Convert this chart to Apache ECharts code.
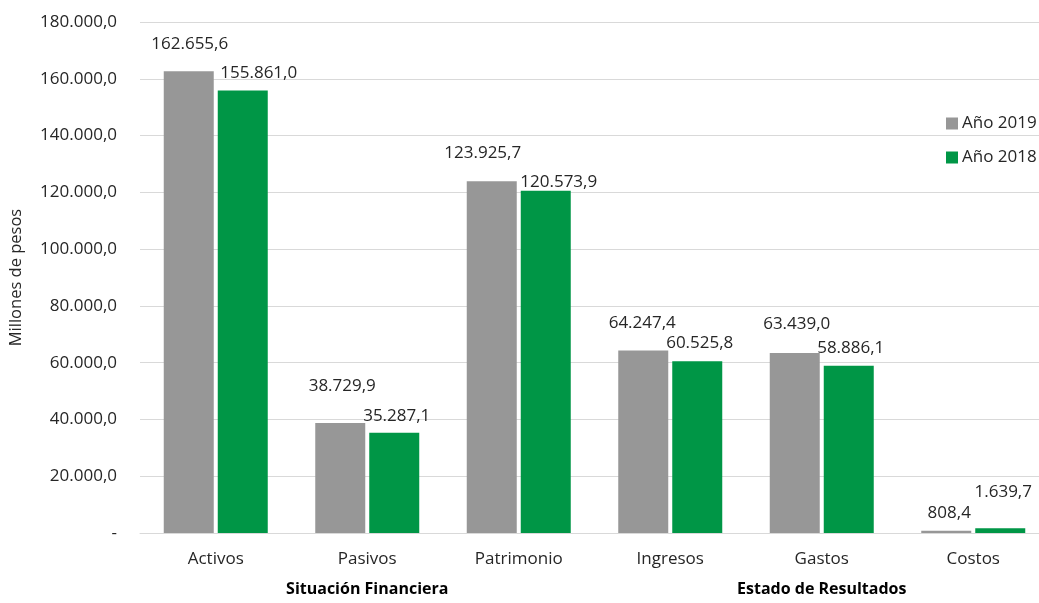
<!DOCTYPE html>
<html>
<head>
<meta charset="utf-8">
<script src="https://cdn.jsdelivr.net/npm/echarts@6/dist/echarts.min.js"></script>
<style>
html,body{margin:0;padding:0;background:#fff;}
#chart{width:1039px;height:603px;}
</style>
</head>
<body>
<div id="chart"></div>
<script>
const categories = ['Activos', 'Pasivos', 'Patrimonio', 'Ingresos', 'Gastos', 'Costos'];
const groups = ['Situación Financiera', 'Estado de Resultados'];
const seriesNames = ['Año 2019', 'Año 2018'];
const values2019 = [162655.6, 38729.9, 123925.7, 64247.4, 63439.0, 808.4];
const values2018 = [155861.0, 35287.1, 120573.9, 60525.8, 58886.1, 1639.7];
const yMin = 0, yMax = 180000, yInterval = 20000;

// label offsets (style only), per point
const offsets2019 = [[1, -18.5], [2, -28.5], [-9, -19.5], [-1, -18.5], [2, -20.5], [3, -9.5]];
const offsets2018 = [[16, -8.5], [2.5, -8.5], [13, -0.5], [2.5, -9.5], [2, -9.5], [3, -27.5]];

function fmt(v) {
  if (v === 0) return '-';
  const neg = v < 0;
  const s = Math.abs(v).toFixed(1);
  const parts = s.split('.');
  const intPart = parts[0].replace(/\B(?=(\d{3})+(?!\d))/g, '.');
  return (neg ? '-' : '') + intPart + ',' + parts[1];
}

const FONT = '"Open Sans", "Liberation Sans", sans-serif';
const TXT = '#262626';

function buildData(vals, offs) {
  return vals.map((v, i) => ({
    value: v,
    label: { offset: offs[i] }
  }));
}

const chart = echarts.init(document.getElementById('chart'), null, { renderer: 'canvas' });
chart.setOption({
  animation: false,
  textStyle: { fontFamily: FONT },
  grid: { left: 140, top: 22, right: -10, bottom: 70, containLabel: false, outerBoundsMode: 'none' },
  legend: {
    orient: 'vertical',
    left: 941,
    top: 110,
    itemWidth: 12,
    itemHeight: 12,
    itemGap: 17,
    icon: 'rect',
    textStyle: { fontFamily: FONT, fontSize: 17, color: TXT, padding: [0, 0, 0, -1] },
    data: seriesNames
  },
  xAxis: [
    {
      type: 'category',
      data: categories,
      axisLine: { show: true, lineStyle: { color: '#d9d9d9', width: 1 } },
      axisTick: { show: false },
      axisLabel: { fontFamily: FONT, fontSize: 17, color: TXT, margin: 18 }
    },
    {
      type: 'category',
      data: groups,
      position: 'bottom',
      offset: 30,
      axisLine: { show: false },
      axisTick: { show: false },
      axisLabel: { fontFamily: FONT, fontSize: 16, fontWeight: 'bold', color: '#000', margin: 18 }
    }
  ],
  yAxis: {
    type: 'value',
    min: yMin,
    max: yMax,
    interval: yInterval,
    name: 'Millones de pesos',
    nameLocation: 'middle',
    nameGap: 115,
    nameRotate: 90,
    nameTextStyle: { fontFamily: FONT, fontSize: 16.5, color: TXT },
    axisLine: { show: false },
    axisTick: { show: false },
    splitLine: { show: true, lineStyle: { color: '#d9d9d9', width: 1 } },
    axisLabel: { fontFamily: FONT, fontSize: 17, color: TXT, margin: 23, formatter: fmt }
  },
  series: [
    {
      name: seriesNames[0],
      type: 'bar',
      xAxisIndex: 0,
      barWidth: 50,
      barGap: '8%',
      itemStyle: { color: '#979797' },
      label: {
        show: true, position: 'top', distance: 0,
        fontFamily: FONT, fontSize: 17, color: TXT,
        formatter: p => fmt(p.value)
      },
      data: buildData(values2019, offsets2019)
    },
    {
      name: seriesNames[1],
      type: 'bar',
      xAxisIndex: 0,
      barWidth: 50,
      barGap: '8%',
      itemStyle: { color: '#009646' },
      label: {
        show: true, position: 'top', distance: 0,
        fontFamily: FONT, fontSize: 17, color: TXT,
        formatter: p => fmt(p.value)
      },
      data: buildData(values2018, offsets2018)
    }
  ]
});
</script>
</body>
</html>
